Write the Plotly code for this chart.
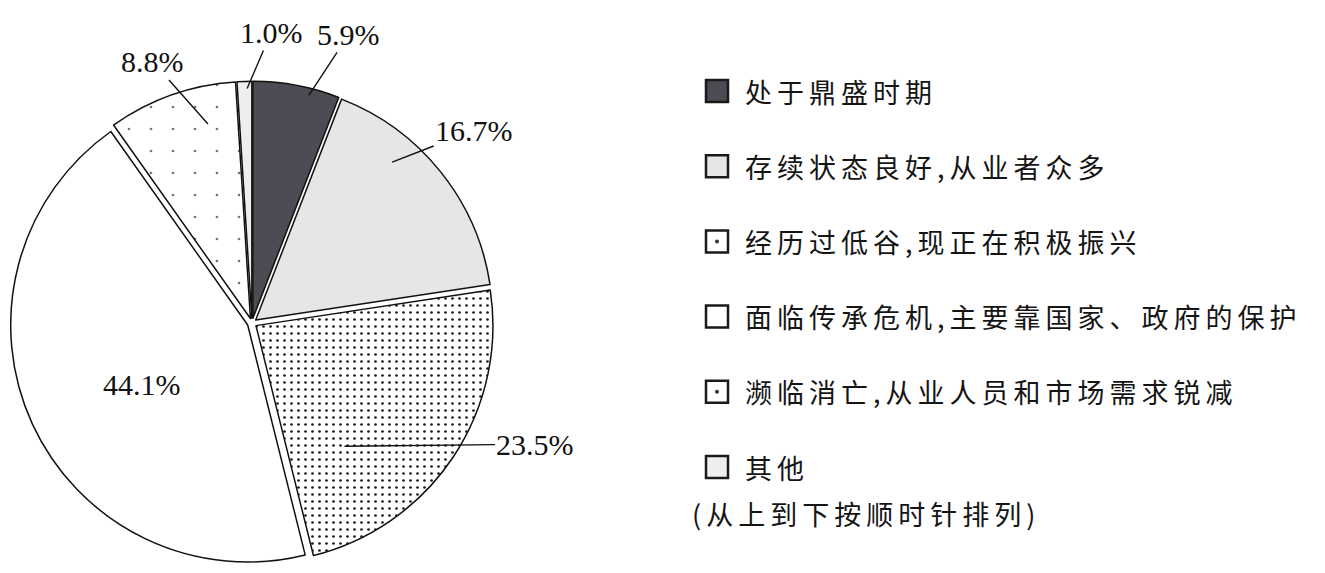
import math
import plotly.graph_objects as go

# ---------------- data ----------------
categories = [
    "处于鼎盛时期",
    "存续状态良好,从业者众多",
    "经历过低谷,现正在积极振兴",
    "面临传承危机,主要靠国家、政府的保护",
    "濒临消亡,从业人员和市场需求锐减",
    "其他",
]
values = [5.9, 16.7, 23.5, 44.1, 8.8, 1.0]
value_labels = ["5.9%", "16.7%", "23.5%", "44.1%", "8.8%", "1.0%"]
note = "(从上到下按顺时针排列)"

# ---------------- style ----------------
PAGE_W, PAGE_H = 1325, 573
OFF = 8                      # default html body margin
W, H = PAGE_W - 2 * OFF, PAGE_H - 2 * OFF


def px2paper(px, py):
    return (px - OFF) / W, 1 - (py - OFF) / H


fills = ["#4b4c54", "#e6e6e6", "#ffffff", "#ffffff", "#ffffff", "#eeeeee"]
pat_shape = ["", "", ".", "", ".", ""]
pat_size = [8, 8, 7, 8, 22, 8]
pat_solid = [0.3, 0.3, 0.12, 0.3, 0.012, 0.3]
pat_fg = ["black", "black", "#1a1a1a", "black", "#777777", "black"]
pat_bg = fills

PULL = 0.02
CX, CY, R = 252, 323, 237          # target page pixels
HALF = R * (1 + PULL)
dx0, dy1 = px2paper(CX - HALF, CY - HALF)
dx1, dy0 = px2paper(CX + HALF, CY + HALF)
dx0, dy0 = max(dx0, 0.0), max(dy0, 0.0)
dx1, dy1 = min(dx1, 1.0), min(dy1, 1.0)

# label placement: (fraction along slice, radius fraction, dx px, dy px, arrow)
label_style = [
    (0.66, 0.99, 40, -61, True),
    (0.33, 0.90, 82, -32, True),
    (0.73, 0.65, 191, -2, True),
    (0.471, 0.534, 0, 0, False),
    (0.72, 0.86, -55, -62, True),
    (0.67, 0.99, 24, -56, True),
]

fig = go.Figure()
fig.add_trace(go.Pie(
    labels=categories,
    values=values,
    sort=False,
    direction="clockwise",
    rotation=0,
    pull=[PULL] * len(values),
    textinfo="none",
    hoverinfo="skip",
    showlegend=False,
    marker=dict(
        colors=fills,
        line=dict(color="#111111", width=1.5),
        pattern=dict(shape=pat_shape, size=pat_size, solidity=pat_solid,
                     fgcolor=pat_fg, bgcolor=pat_bg),
    ),
    domain=dict(x=[dx0, dx1], y=[dy0, dy1]),
))

annotations = []
total = sum(values)
cum = 0.0
for v, lab, (fr, rf, dx, dy, arrow) in zip(values, value_labels, label_style):
    a0 = cum / total * 360
    a1 = (cum + v) / total * 360
    cum += v
    ang = math.radians(a0 + fr * (a1 - a0))
    px = CX + R * rf * math.sin(ang)
    py = CY - R * rf * math.cos(ang)
    x, y = px2paper(px, py)
    ann = dict(x=x, y=y, xref="paper", yref="paper", text=lab,
               xanchor="center", yanchor="middle",
               font=dict(family="Liberation Serif", size=30, color="#111111"),
               showarrow=arrow)
    if arrow:
        ann.update(ax=dx, ay=dy, arrowhead=0, arrowwidth=1.4,
                   arrowcolor="#111111", standoff=0)
    annotations.append(ann)

# manual legend
shapes = []
KX0, KS, TX = 706, 22, 743
ROW0, ROWGAP = 91, 75.2
for i, cat in enumerate(categories):
    yc = ROW0 + i * ROWGAP
    xa, ya = px2paper(KX0, yc - KS / 2)
    xb, yb = px2paper(KX0 + KS, yc + KS / 2)
    shapes.append(dict(type="rect", xref="paper", yref="paper",
                       x0=xa, x1=xb, y0=yb, y1=ya,
                       line=dict(color="#1a1a1a", width=2.5),
                       fillcolor=fills[i]))
    if pat_shape[i] == ".":
        xa, ya = px2paper(KX0 + KS / 2 - 2, yc - 2)
        xb, yb = px2paper(KX0 + KS / 2 + 2, yc + 2)
        shapes.append(dict(type="circle", xref="paper", yref="paper",
                           x0=xa, x1=xb, y0=yb, y1=ya,
                           line=dict(width=0), fillcolor="#333333"))
    tx, ty = px2paper(TX, yc)
    annotations.append(dict(
        x=tx, y=ty, xref="paper", yref="paper",
        xanchor="left", yanchor="middle", showarrow=False,
        text='<span style="letter-spacing:5px">' + cat + "</span>",
        font=dict(family="Noto Sans CJK SC", size=27, color="#151515")))

nx, ny = px2paper(690, 513)
annotations.append(dict(
    x=nx, y=ny, xref="paper", yref="paper",
    xanchor="left", yanchor="middle", showarrow=False,
    text='<span style="letter-spacing:5px">' + note + "</span>",
    font=dict(family="Noto Sans CJK SC", size=27, color="#151515")))

fig.update_layout(
    width=W, height=H,
    margin=dict(l=0, r=0, t=0, b=0),
    paper_bgcolor="white", plot_bgcolor="white",
    annotations=annotations, shapes=shapes,
)
fig.write_html("out.html")
